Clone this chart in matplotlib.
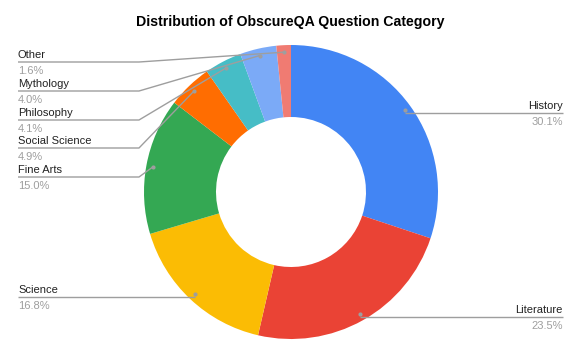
import matplotlib
matplotlib.use("Agg")
import matplotlib.pyplot as plt
import numpy as np

plt.rcParams['font.family'] = ['Liberation Sans', 'DejaVu Sans']

title = "Distribution of ObscureQA Question Category"
categories = ["History", "Literature", "Science", "Fine Arts",
              "Social Science", "Philosophy", "Mythology", "Other"]
values = [30.1, 23.5, 16.8, 15.0, 4.9, 4.1, 4.0, 1.6]
pct_labels = ["30.1%", "23.5%", "16.8%", "15.0%", "4.9%", "4.1%", "4.0%", "1.6%"]
colors = ["#4285F4", "#EA4335", "#FBBC04", "#34A853",
          "#FF6D01", "#46BDC6", "#7BAAF7", "#F07B72"]

# layout (pixel coordinates, y measured from top)
W, H = 581, 361
cx, cy = 291, 192
R_out, R_in = 147, 75
R_pt = 140
label_side = ["right", "right", "left", "left", "left", "left", "left", "left"]
label_line_y = [113, 317, 297, 177, 148, 120, 91, 62]
left_x, right_x, elbow_x = 18, 563, 139

fig = plt.figure(figsize=(W / 100, H / 100), dpi=100)
ax = fig.add_axes([0, 0, 1, 1])

def py(y):
    return H - y

ax.pie(values, colors=colors, startangle=90, counterclock=False,
       center=(cx, py(cy)), radius=R_out, frame=True,
       wedgeprops=dict(width=R_out - R_in, linewidth=0))

ax.set_xlim(0, W)
ax.set_ylim(0, H)
ax.set_aspect('auto')
ax.axis('off')

total = sum(values)
cum = 0.0
line_col = "#9e9e9e"
for cat, v, pct, side, ly in zip(categories, values, pct_labels, label_side, label_line_y):
    mid = cum + v / 2
    cum += v
    ang = np.deg2rad(90 - mid / total * 360)
    px = cx + R_pt * np.cos(ang)
    pyy = cy - R_pt * np.sin(ang)
    if side == "left":
        if abs(pyy - ly) < 3:
            xs, ys = [left_x, px], [ly, ly]
        else:
            xs, ys = [left_x, elbow_x, px], [ly, ly, pyy]
        ax.plot(xs, [py(y) for y in ys], color=line_col, lw=1, solid_capstyle='butt')
        ax.text(left_x, py(ly - 4), cat, ha='left', va='baseline', fontsize=8, color="#222222")
        ax.text(left_x, py(ly + 12), pct, ha='left', va='baseline', fontsize=8, color="#9e9e9e")
    else:
        xs, ys = [px, right_x], [ly, ly]
        ax.plot(xs, [py(y) for y in ys], color=line_col, lw=1, solid_capstyle='butt')
        ax.text(right_x, py(ly - 4), cat, ha='right', va='baseline', fontsize=8, color="#222222")
        ax.text(right_x, py(ly + 12), pct, ha='right', va='baseline', fontsize=8, color="#9e9e9e")
    ax.plot([px], [py(pyy)], 'o', color=line_col, ms=3, mew=0)

ax.text(290, py(22), title, ha='center', va='center', fontsize=10.2,
        fontweight='bold', color="#000000")

fig.savefig("out.png", dpi=100)
